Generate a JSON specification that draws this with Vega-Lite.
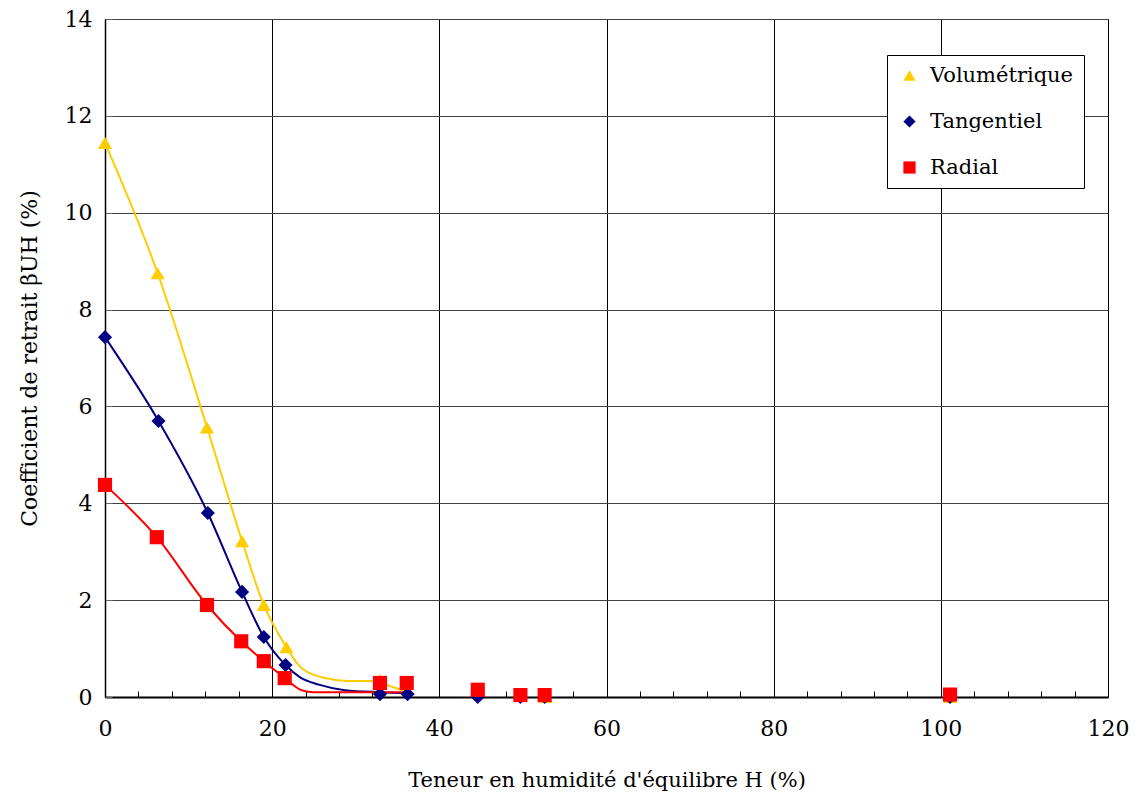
{
  "$schema": "https://vega.github.io/schema/vega-lite/v6.json",
  "autosize": {"type": "none"},
  "padding": {"left": 105, "top": 19, "right": 34, "bottom": 108},
  "width": 1003,
  "height": 678,
  "background": "white",
  "config": {
    "font": "DejaVu Serif",
    "view": {"stroke": "black", "strokeWidth": 1}
  },
  "datasets": {
    "curves": [
      {"serie": "Volumétrique", "h": 0, "b": 11.44},
      {"serie": "Volumétrique", "h": 6.3, "b": 8.75},
      {"serie": "Volumétrique", "h": 12.2, "b": 5.57},
      {"serie": "Volumétrique", "h": 16.4, "b": 3.22},
      {"serie": "Volumétrique", "h": 19.0, "b": 1.9},
      {"serie": "Volumétrique", "h": 21.7, "b": 1.03},
      {"serie": "Volumétrique", "h": 23.5, "b": 0.6},
      {"serie": "Volumétrique", "h": 26.6, "b": 0.38},
      {"serie": "Volumétrique", "h": 29.0, "b": 0.33},
      {"serie": "Volumétrique", "h": 32.0, "b": 0.33},
      {"serie": "Volumétrique", "h": 34.5, "b": 0.2},
      {"serie": "Volumétrique", "h": 36.5, "b": 0.08},
      {"serie": "Tangentiel", "h": 0, "b": 7.43},
      {"serie": "Tangentiel", "h": 6.4, "b": 5.7},
      {"serie": "Tangentiel", "h": 12.3, "b": 3.8},
      {"serie": "Tangentiel", "h": 16.4, "b": 2.17},
      {"serie": "Tangentiel", "h": 19.0, "b": 1.24},
      {"serie": "Tangentiel", "h": 21.6, "b": 0.66},
      {"serie": "Tangentiel", "h": 23.3, "b": 0.41},
      {"serie": "Tangentiel", "h": 25.7, "b": 0.25},
      {"serie": "Tangentiel", "h": 28.7, "b": 0.14},
      {"serie": "Tangentiel", "h": 32.9, "b": 0.1},
      {"serie": "Tangentiel", "h": 36.5, "b": 0.08},
      {"serie": "Radial", "h": 0, "b": 4.38},
      {"serie": "Radial", "h": 6.2, "b": 3.3},
      {"serie": "Radial", "h": 12.2, "b": 1.9},
      {"serie": "Radial", "h": 16.3, "b": 1.15},
      {"serie": "Radial", "h": 19.0, "b": 0.74},
      {"serie": "Radial", "h": 21.5, "b": 0.39},
      {"serie": "Radial", "h": 22.5, "b": 0.25},
      {"serie": "Radial", "h": 23.5, "b": 0.14},
      {"serie": "Radial", "h": 25.0, "b": 0.1},
      {"serie": "Radial", "h": 36.5, "b": 0.1}
    ],
    "points": [
      {"serie": "Volumétrique", "h": 0, "b": 11.44},
      {"serie": "Volumétrique", "h": 6.3, "b": 8.75},
      {"serie": "Volumétrique", "h": 12.2, "b": 5.57},
      {"serie": "Volumétrique", "h": 16.4, "b": 3.22},
      {"serie": "Volumétrique", "h": 19.0, "b": 1.9},
      {"serie": "Volumétrique", "h": 21.7, "b": 1.03},
      {"serie": "Volumétrique", "h": 32.9, "b": 0.35},
      {"serie": "Volumétrique", "h": 36.1, "b": 0.3},
      {"serie": "Volumétrique", "h": 52.7, "b": 0.0},
      {"serie": "Volumétrique", "h": 101.1, "b": 0.0},
      {"serie": "Tangentiel", "h": 0, "b": 7.43},
      {"serie": "Tangentiel", "h": 6.4, "b": 5.7},
      {"serie": "Tangentiel", "h": 12.3, "b": 3.8},
      {"serie": "Tangentiel", "h": 16.4, "b": 2.17},
      {"serie": "Tangentiel", "h": 19.0, "b": 1.24},
      {"serie": "Tangentiel", "h": 21.6, "b": 0.66},
      {"serie": "Tangentiel", "h": 32.9, "b": 0.06},
      {"serie": "Tangentiel", "h": 36.2, "b": 0.06},
      {"serie": "Tangentiel", "h": 44.6, "b": 0.0},
      {"serie": "Tangentiel", "h": 49.7, "b": 0.0},
      {"serie": "Tangentiel", "h": 52.6, "b": 0.0},
      {"serie": "Tangentiel", "h": 101.1, "b": 0.0},
      {"serie": "Radial", "h": 0, "b": 4.38},
      {"serie": "Radial", "h": 6.2, "b": 3.3},
      {"serie": "Radial", "h": 12.2, "b": 1.9},
      {"serie": "Radial", "h": 16.3, "b": 1.15},
      {"serie": "Radial", "h": 19.0, "b": 0.74},
      {"serie": "Radial", "h": 21.5, "b": 0.39},
      {"serie": "Radial", "h": 32.9, "b": 0.29},
      {"serie": "Radial", "h": 36.1, "b": 0.29},
      {"serie": "Radial", "h": 44.6, "b": 0.15},
      {"serie": "Radial", "h": 49.7, "b": 0.04},
      {"serie": "Radial", "h": 52.6, "b": 0.04},
      {"serie": "Radial", "h": 101.1, "b": 0.05}
    ]
  },
  "layer": [
    {
      "data": {"name": "curves"},
      "mark": {"type": "line", "interpolate": "monotone", "strokeWidth": 2, "clip": false},
      "encoding": {
        "x": {
          "field": "h", "type": "quantitative",
          "scale": {"domain": [0, 120], "nice": false, "zero": false},
          "axis": {
            "title": "Teneur en humidité d'équilibre H (%)",
            "titleFont": "DejaVu Serif",
            "titleFontSize": 21, "titleFontWeight": "normal", "titleColor": "black", "titlePadding": 30,
            "values": [0,4,8,12,16,20,24,28,32,36,40,44,48,52,56,60,64,68,72,76,80,84,88,92,96,100,104,108,112,116,120],
            "tickCount": 60,
            "labelExpr": "datum.value % 20 === 0 ? datum.label : ''",
            "labelFont": "DejaVu Serif",
            "labelFontSize": 22, "labelColor": "black", "labelPadding": 27,
            "labelOverlap": false, "labelFlush": false,
            "domainColor": "black", "domainWidth": 2,
            "tickColor": "black", "tickSize": -6, "tickWidth": 1,
            "grid": true, "gridColor": "black", "gridWidth": 1,
            "gridOpacity": {"condition": {"test": "datum.value % 20 === 0", "value": 1}, "value": 0}
          }
        },
        "y": {
          "field": "b", "type": "quantitative",
          "scale": {"domain": [0, 14], "nice": false},
          "axis": {
            "title": "Coefficient de retrait βUH (%)",
            "titleFont": "DejaVu Serif",
            "titleFontSize": 22, "titleFontWeight": "normal", "titleColor": "black", "titlePadding": 23,
            "values": [0,2,4,6,8,10,12,14],
            "labelFont": "DejaVu Serif",
            "labelFontSize": 22, "labelColor": "black", "labelPadding": 20,
            "domainColor": "black", "domainWidth": 1.5,
            "tickColor": "#666666", "tickSize": -7,
            "grid": true, "gridColor": "#404040", "gridWidth": 1
          }
        },
        "detail": {"field": "serie"},
        "stroke": {
          "field": "serie", "type": "nominal",
          "scale": {"domain": ["Radial", "Tangentiel", "Volumétrique"], "range": ["#FF0000", "#000080", "#FFCC00"]},
          "legend": null
        }
      }
    },
    {
      "data": {"name": "points"},
      "mark": {"type": "point", "filled": true, "opacity": 1, "strokeWidth": 0, "clip": false},
      "encoding": {
        "x": {"field": "h", "type": "quantitative"},
        "y": {"field": "b", "type": "quantitative"},
        "order": {"field": "serie", "sort": "descending"},
        "size": {
          "field": "serie", "type": "nominal",
          "scale": {"domain": ["Radial", "Tangentiel", "Volumétrique"], "range": [200, 200, 300]},
          "legend": null
        },
        "fill": {
          "field": "serie", "type": "nominal",
          "scale": {"domain": ["Volumétrique", "Tangentiel", "Radial"], "range": ["#FFCC00", "#000080", "#FF0000"]},
          "legend": {
            "title": null, "orient": "none", "legendX": 782, "legendY": 36,
            "fillColor": "white", "strokeColor": "black", "padding": 10,
            "labelFont": "DejaVu Serif",
            "labelFontSize": 21, "labelColor": "black",
            "symbolSize": 150, "symbolOffset": 2, "rowPadding": 24, "labelOffset": 10, "symbolStrokeWidth": 0
          }
        },
        "shape": {
          "field": "serie", "type": "nominal",
          "scale": {"domain": ["Volumétrique", "Tangentiel", "Radial"], "range": ["triangle-up", "diamond", "square"]},
          "legend": {
            "title": null, "orient": "none", "legendX": 782, "legendY": 36,
            "fillColor": "white", "strokeColor": "black", "padding": 10,
            "labelFont": "DejaVu Serif",
            "labelFontSize": 21, "labelColor": "black",
            "symbolSize": 150, "symbolOffset": 2, "rowPadding": 24, "labelOffset": 10, "symbolStrokeWidth": 0
          }
        }
      }
    }
  ]
}
